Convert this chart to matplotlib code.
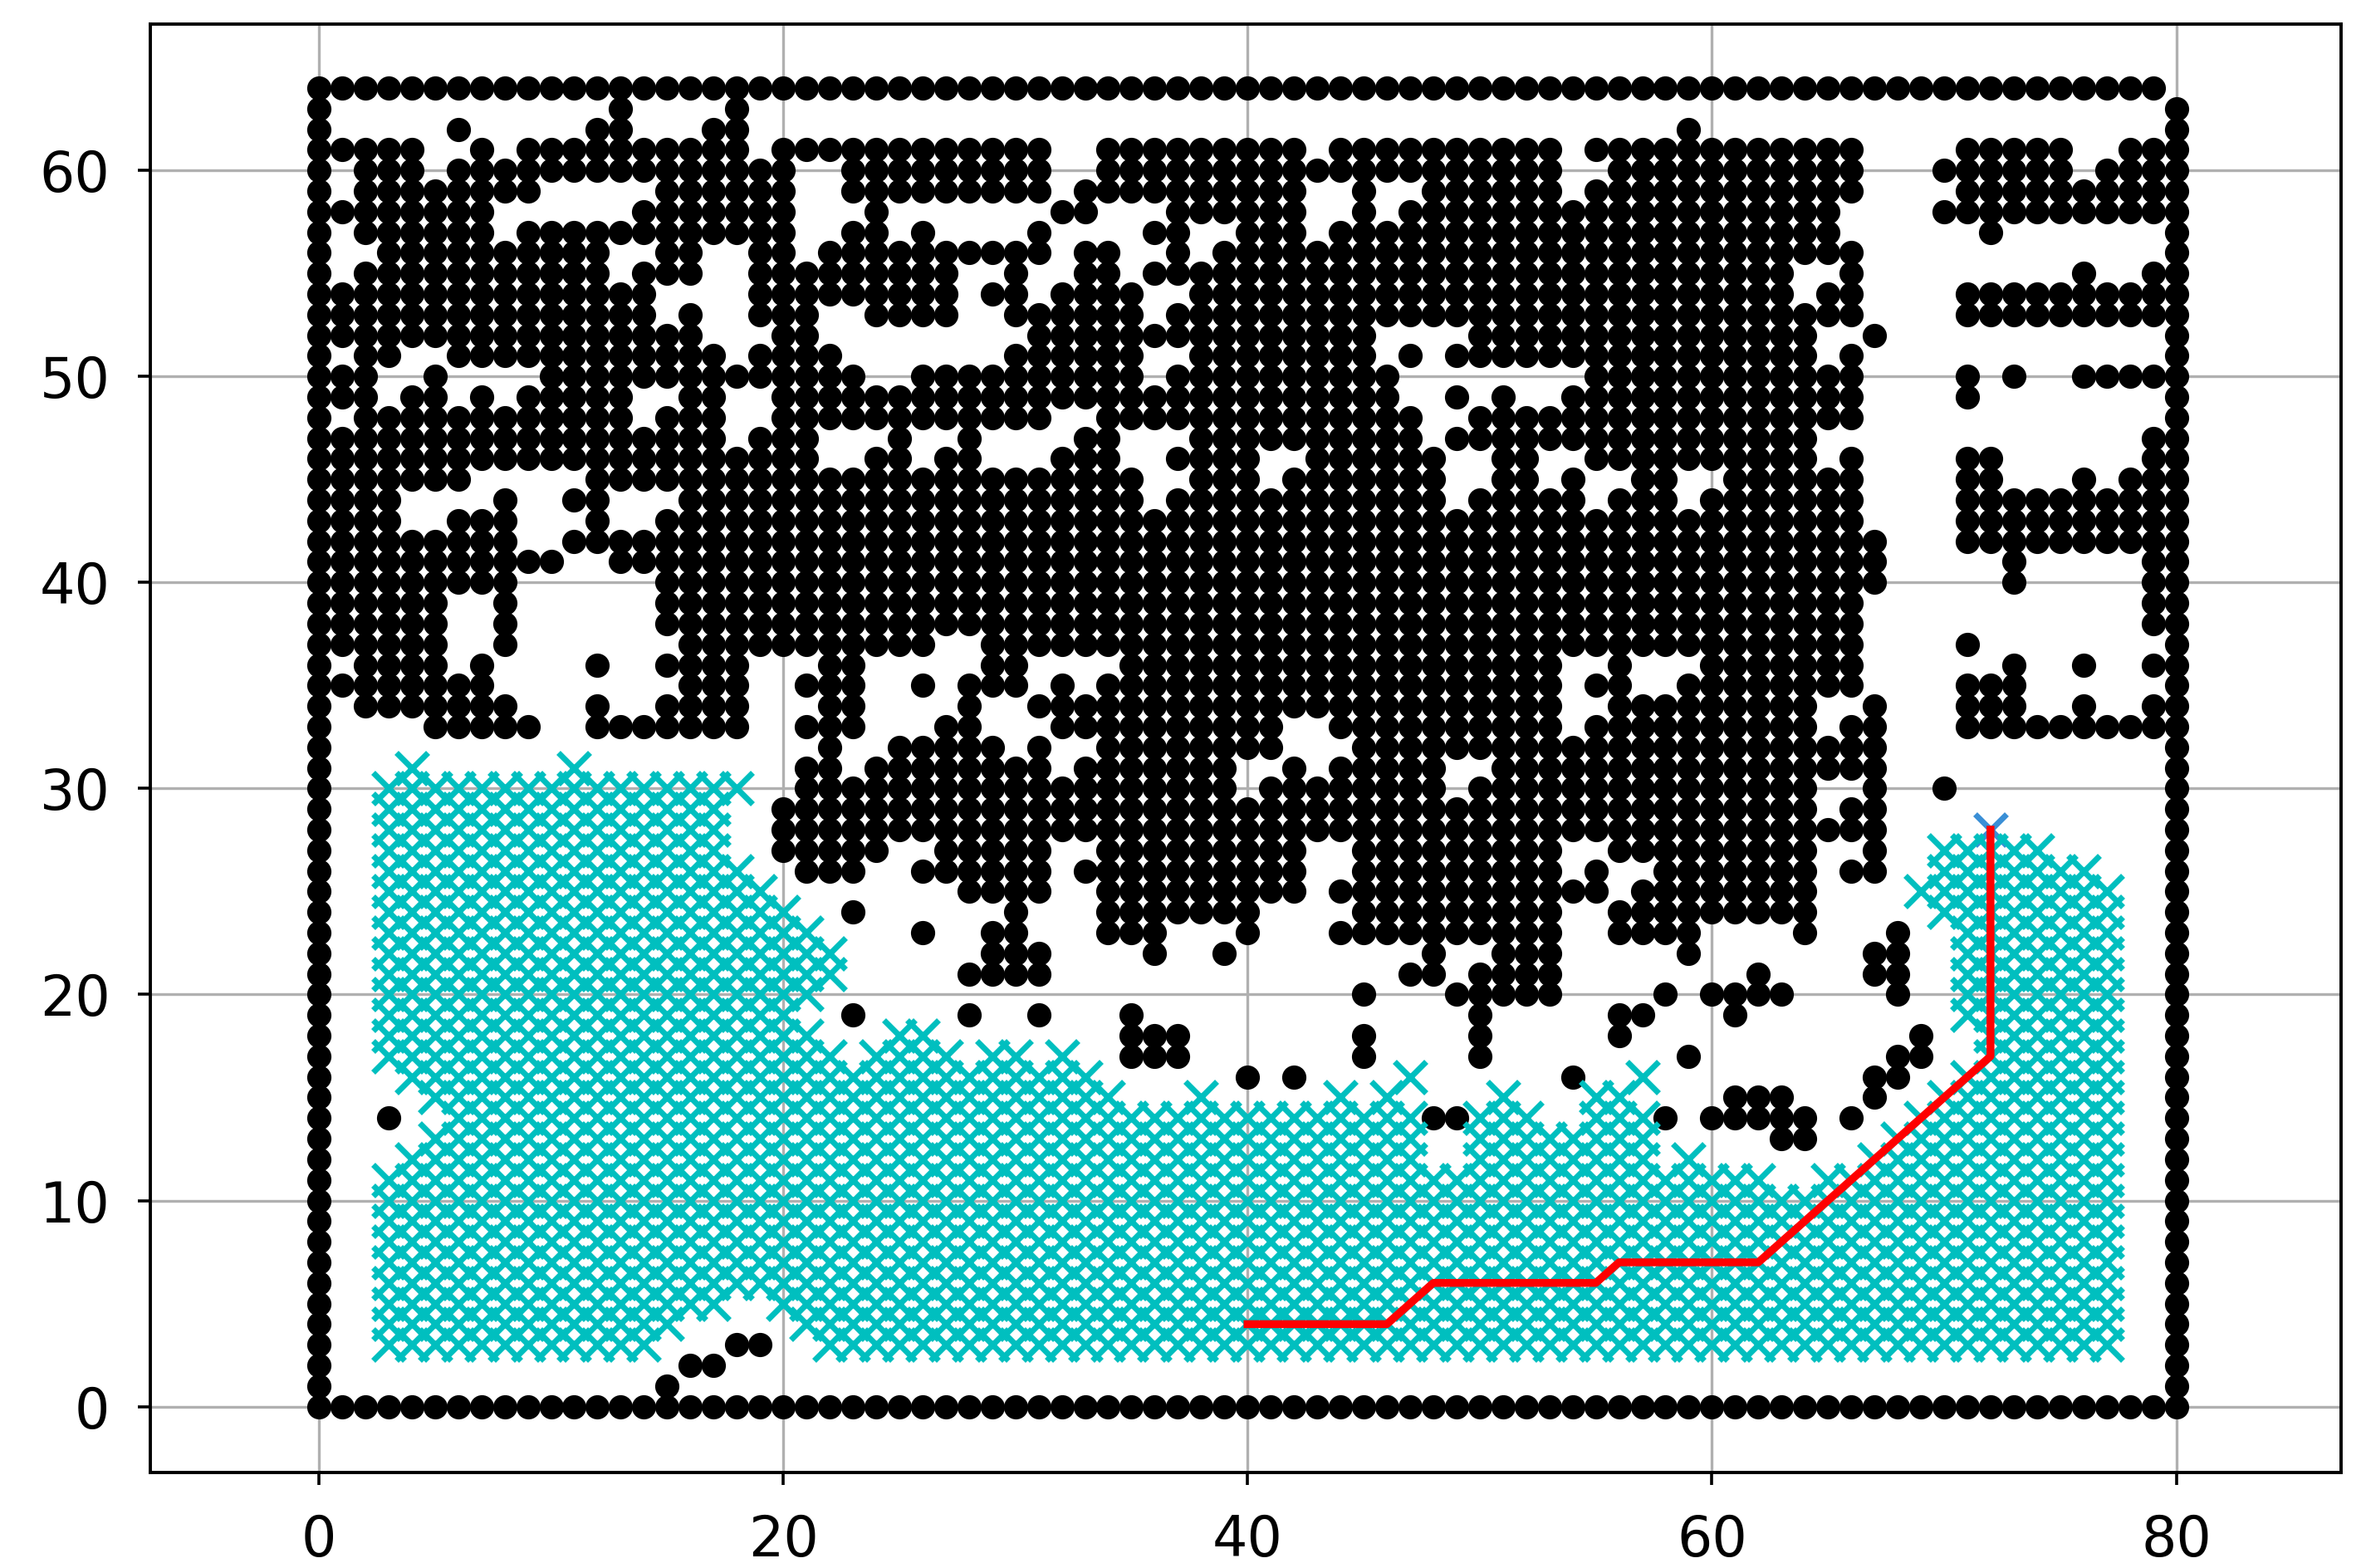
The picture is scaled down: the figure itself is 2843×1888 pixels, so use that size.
import matplotlib
matplotlib.use('Agg')
import matplotlib.pyplot as plt

# Obstacle cells, one list per map row (y), written as x runs
obstacle_y = list(range(64, -1, -1))
obstacle_runs = [
    "0-79",
    "0 13 18 80",
    "0 6 12-13 17-18 59 80",
    "0-4 7 9-18 20-31 34-42 44-53 55-66 71-75 78-80",
    "0 2-4 6-20 23-31 34-53 56-66 70-75 77-80",
    "0 2-9 15-20 23-31 33-42 45 48-53 55-66 71-80",
    "0-7 14-20 24 32-33 37-42 45 47-65 70-80",
    "0 2-7 9-20 23-24 26 31 36-37 40-42 44-65 72 80",
    "0 3-12 15-16 19-20 22-31 33-34 37 39-66 80",
    "0 2-12 14-16 19-27 30 33-34 36-63 66 76 79-80",
    "0-14 19-27 29-30 32-35 38-63 65-66 71-80",
    "0-14 16 19-21 24-27 30-35 37-66 71-80",
    "0-16 20-21 31-45 50-64 67 80",
    "0 2-3 6-17 19-22 30-35 38-45 47 49-64 66 80",
    "0-2 5 10-23 26-35 37-46 55-66 71 73 76-80",
    "0-2 4-5 7 9-13 16-17 20-46 49 51 54-66 71 80",
    "0 2-13 15-17 20-31 34-47 50-66 80",
    "0-17 19-21 25 28 33-34 38-47 49-64 79-80",
    "0-21 24-25 27-28 32-34 37-40 43-48 51-52 55-64 66 71-72 79-80",
    "0-6 12-35 38-40 42-48 51-52 54 57-58 61-66 71-72 76 78-80",
    "0-3 8 11-12 16-35 37-48 50-54 56-58 60-66 71-80",
    "0-3 6-8 12 15-66 71-80",
    "0-8 11-67 71-80",
    "0-10 13-67 73 79-80",
    "0-8 15-67 73 79-80",
    "0-5 8 15-66 79-80",
    "0-5 8 15-66 79-80",
    "0-5 8 16-26 29-66 71 80",
    "0 2-5 7 12 15-18 22-23 29-30 35-53 56 60-66 73 76 79-80",
    "0-7 16-18 21-23 26 28-30 32 34-53 55-56 59-66 71-73 80",
    "0 2-8 12 15-18 22-23 28 31-53 56-64 67 71-73 76 79-80",
    "0 5-9 12-18 21-23 27-28 32-41 44-53 55-64 66-67 71-80",
    "0 22 25-29 31 34-41 45-67 80",
    "0 21-22 24-31 33-39 42 44-48 51-67 80",
    "0 21-39 41-48 50-64 67 70 80",
    "0 20-64 66-67 80",
    "0 20-67 80",
    "0 20-24 27-31 34-42 45-53 56-64 67 80",
    "0 21-23 26-31 33-42 45-53 55 58-64 66-67 80",
    "0 28-31 34-42 44-55 57-64 80",
    "0 23 30 34-40 45-53 56-64 80",
    "0 26 29-30 34-36 40 44-53 56-59 64 68 80",
    "0 29-31 36 39 48 51-53 59 67-68 80",
    "0 28-31 47-48 50-53 62 67-68 80",
    "0 45 49-53 58 60-63 68 80",
    "0 23 28 31 35 50 56-57 61 80",
    "0 35-37 45 50 56 69 80",
    "0 35-37 45 50 59 68-69 80",
    "0 40 42 54 67-68 80",
    "0 61-63 67 80",
    "0 3 48-49 58 60-64 66 80",
    "0 63-64 80",
    "0 80", "0 80", "0 80", "0 80", "0 80", "0 80", "0 80", "0 80", "0 80",
    "0 18-19 80",
    "0 16-17 80",
    "0 15 80",
    "0-80",
]

# Searched cells, same form
visited_y = list(range(31, 2, -1))
visited_runs = [
    "4 11",
    "3-18",
    "3-17",
    "3-17",
    "3-17 70-74",
    "3-18 70-76",
    "3-19 69-77",
    "3-20 70-77",
    "3-21 71-77",
    "3-22 71-77",
    "3-22 71-77",
    "3-21 71-77",
    "3-20 71-77",
    "3-21 25-26 72-77",
    "3-22 24-27 29-30 32 72-77",
    "4-33 47 57 71-77",
    "5-34 38 44 46 51 55-56 70-77",
    "6-47 50-52 55-57 69-77",
    "5-47 50-57 68-77",
    "4-47 50-57 59 67-77",
    "3-62 65-77",
    "3-77",
    "3-77",
    "3-77",
    "3-77",
    "3-77",
    "3-17 20-77",
    "3-15 21-77",
    "3-14 22-77",
]

path_x = [40, 46, 48, 55, 56, 62, 72, 72]
path_y = [4, 4, 6, 6, 7, 7, 17, 28]
goal_x = [72]
goal_y = [28]

x_ticks = [0, 20, 40, 60, 80]
y_ticks = [0, 10, 20, 30, 40, 50, 60]


def expand(rows, runs):
    xs, ys = [], []
    for y, run in zip(rows, runs):
        for part in run.split():
            lo, _, hi = part.partition('-')
            for x in range(int(lo), int(hi or lo) + 1):
                xs.append(x)
                ys.append(y)
    return xs, ys


ox, oy = expand(obstacle_y, obstacle_runs)
vx, vy = expand(visited_y, visited_runs)

fig = plt.figure(figsize=(14.215, 9.44), dpi=200)
ax = fig.add_axes([181 / 2843, 1 - 1773 / 1888, (2819 - 181) / 2843, (1773 - 29) / 1888])

ax.plot(ox, oy, 'o', color='k', ms=10.5, mew=0)
ax.plot(goal_x, goal_y, 'x', color='#3a8fd6', ms=14, mew=2.5)
ax.plot(vx, vy, 'x', color='#00bfbf', ms=14, mew=2.5)
ax.plot(path_x, path_y, '-', color='#ff0000', lw=3.4)

ax.set_xlim(-7.26, 87.1)
ax.set_ylim(-3.2, 67.1)
ax.set_xticks(x_ticks)
ax.set_yticks(y_ticks)
ax.grid(True, color='#b0b0b0', lw=1.2)
ax.tick_params(labelsize=24, length=5.5, width=1.3, pad=12)
for spine in ax.spines.values():
    spine.set_linewidth(1.4)

fig.savefig('out.png', dpi=200)
